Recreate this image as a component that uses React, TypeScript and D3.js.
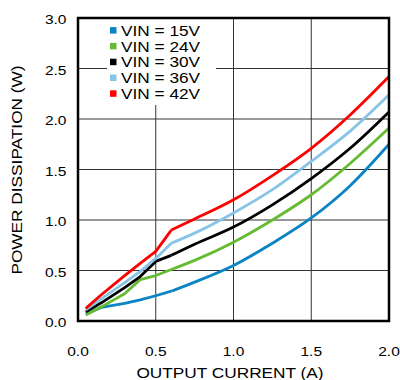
import React from "react";
import * as d3 from "d3";

const current = [0.05, 0.15, 0.3, 0.4, 0.5, 0.6, 0.75, 1.0, 1.25, 1.5, 1.75, 2.0];
const vin15 = [0.07, 0.135, 0.175, 0.21, 0.25, 0.295, 0.385, 0.55, 0.77, 1.02, 1.34, 1.75];
const vin24 = [0.06, 0.14, 0.27, 0.41, 0.45, 0.51, 0.6, 0.78, 1.0, 1.25, 1.56, 1.91];
const vin30 = [0.09, 0.18, 0.33, 0.44, 0.59, 0.65, 0.76, 0.93, 1.15, 1.41, 1.71, 2.07];
const vin36 = [0.11, 0.22, 0.38, 0.49, 0.62, 0.77, 0.87, 1.07, 1.3, 1.58, 1.88, 2.24];
const vin42 = [0.125, 0.26, 0.45, 0.57, 0.69, 0.9, 1.01, 1.2, 1.44, 1.71, 2.04, 2.42];

const seriesNames = ["VIN = 15V", "VIN = 24V", "VIN = 30V", "VIN = 36V", "VIN = 42V"];
const seriesValues = [vin15, vin24, vin30, vin36, vin42];
const seriesColors = ["#0a84c4", "#66bb33", "#000000", "#88c4e6", "#ff0000"];

const xTicks = [0, 0.5, 1.0, 1.5, 2.0];
const yTicks = [0, 0.5, 1.0, 1.5, 2.0, 2.5, 3.0];

const FONT = "'Liberation Sans', Arial, Helvetica, sans-serif";
const SX = 1.15;

function StretchText(props: {
  x: number; y: number; size: number; anchor?: string; rotate?: number; children: React.ReactNode;
}) {
  const { x, y, size, anchor = "start", rotate = 0, children } = props;
  return (
    <text
      transform={`translate(${x},${y}) rotate(${rotate}) scale(${SX},1)`}
      fontFamily={FONT}
      fontSize={size}
      textAnchor={anchor}
      fill="#000"
    >
      {children}
    </text>
  );
}

export default function App() {
  const left = 78, right = 389, top = 18, bottom = 321;
  const x = d3.scaleLinear().domain([0, 2]).range([left, right]);
  const y = d3.scaleLinear().domain([0, 3]).range([bottom, top]);
  const pts = (vals: number[]) => vals.map((v, i) => [x(current[i]), y(v)] as [number, number]);
  const split = 5; // index of 0.6 A: straight segments below, smooth curve above
  const lowLine = d3.line().curve(d3.curveLinear);
  const highLine = d3.line().curve(d3.curveMonotoneX);

  const legX = 110;
  const legY0 = 30.3;
  const legDy = 15.8;

  return (
    <svg width={400} height={380} style={{ position: "absolute", left: 0, top: 0, background: "#fff" }}>
      {/* gridlines */}
      {xTicks.slice(1, -1).map((t) => (
        <line key={"gx" + t} x1={x(t)} x2={x(t)} y1={top} y2={bottom} stroke="#333" strokeWidth={1} />
      ))}
      {yTicks.slice(1, -1).map((t) => (
        <line key={"gy" + t} x1={left} x2={right} y1={y(t)} y2={y(t)} stroke="#333" strokeWidth={1} />
      ))}
      {/* legend background */}
      <rect x={107} y={top + 1} width={109} height={86} fill="#fff" />
      {/* series */}
      {seriesValues.map((vals, i) => {
        const p = pts(vals);
        return (
          <g key={"s" + i} fill="none" stroke={seriesColors[i]} strokeWidth={2.8} strokeLinejoin="round">
            <path d={lowLine(p.slice(0, split + 1)) || ""} />
            <path d={highLine(p.slice(split)) || ""} />
          </g>
        );
      })}
      {/* frame */}
      <rect x={left} y={top} width={right - left} height={bottom - top} fill="none" stroke="#000" strokeWidth={2.5} />
      {/* legend */}
      {seriesNames.map((n, i) => (
        <g key={"l" + i}>
          <rect x={legX} y={legY0 + i * legDy - 3.2} width={6.5} height={6.5} fill={seriesColors[i]} />
          <StretchText x={121} y={legY0 + i * legDy + 5.4} size={15}>
            {n}
          </StretchText>
        </g>
      ))}
      {/* x tick labels */}
      {xTicks.map((t) => (
        <StretchText key={"xt" + t} x={x(t)} y={356} size={13.5} anchor="middle">
          {t.toFixed(1)}
        </StretchText>
      ))}
      {/* y tick labels */}
      {yTicks.map((t) => (
        <StretchText key={"yt" + t} x={66.5} y={y(t) + 6} size={13.5} anchor="end">
          {t.toFixed(1)}
        </StretchText>
      ))}
      {/* axis titles */}
      <StretchText x={230} y={378} size={15} anchor="middle">
        OUTPUT CURRENT (A)
      </StretchText>
      <StretchText x={21.5} y={170} size={15} anchor="middle" rotate={-90}>
        POWER DISSIPATION (W)
      </StretchText>
    </svg>
  );
}
